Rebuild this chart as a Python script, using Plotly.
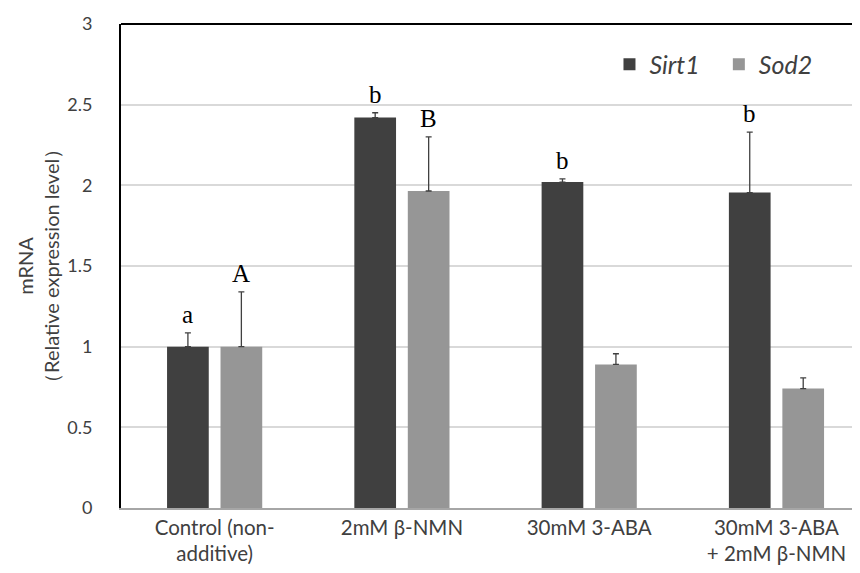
import plotly.graph_objects as go

categories = ["Control (non-<br>additive)", "2mM β-NMN", "30mM 3-ABA", "30mM 3-ABA<br>+ 2mM β-NMN"]
sirt1 = [1.0, 2.42, 2.02, 1.955]
sirt1_err = [0.085, 0.03, 0.02, 0.375]
sod2 = [1.0, 1.965, 0.89, 0.74]
sod2_err = [0.34, 0.335, 0.066, 0.066]
sirt1_letters = ["a", "b", "b", "b"]
sod2_letters = ["A", "B", "", ""]

DARK = "#404040"
LIGHT = "#969696"
FONT = "Lato"

fig = go.Figure()
fig.add_trace(go.Bar(
    x=categories, y=sirt1, name="Sirt1", legend="legend",
    marker=dict(color=DARK, line=dict(width=0)),
    error_y=dict(type="data", array=sirt1_err, symmetric=False, arrayminus=[0]*4,
                 color="#404040", thickness=1.3, width=3),
))
fig.add_trace(go.Bar(
    x=categories, y=sod2, name="Sod2", legend="legend2",
    marker=dict(color=LIGHT, line=dict(width=0)),
    error_y=dict(type="data", array=sod2_err, symmetric=False, arrayminus=[0]*4,
                 color="#404040", thickness=1.3, width=3),
))

annotations = []
for i, c in enumerate(categories):
    for letters, vals, errs, off in ((sirt1_letters, sirt1, sirt1_err, -0.143), (sod2_letters, sod2, sod2_err, 0.143)):
        if letters[i]:
            annotations.append(dict(
                x=i + off, y=vals[i] + errs[i], xref="x", yref="y",
                text=letters[i], showarrow=False, yanchor="bottom", yshift=3,
                font=dict(family="Liberation Serif", size=25, color="#000000"),
            ))

annotations.append(dict(
    x=0, y=0.5, xref="paper", yref="paper", xshift=-83,
    text="mRNA<br>（Relative expression level）", showarrow=False, textangle=-90,
    font=dict(family="Lato", size=20, color="#404040"), xanchor="center", yanchor="middle",
))

legend_style = dict(orientation="h", xanchor="left", yanchor="top",
                    font=dict(family=FONT, size=25, color="#404040", style="italic"),
                    bgcolor="rgba(0,0,0,0)")

# page body has an 8px default margin; figure sized to fill the remaining window
fig.update_layout(
    width=852, height=565,
    margin=dict(l=113, r=0, t=16, b=65),
    paper_bgcolor="white", plot_bgcolor="white",
    barmode="group", bargap=0.429, bargroupgap=0.22,
    showlegend=True,
    legend=dict(x=0.661, y=0.964, **legend_style),
    legend2=dict(x=0.809, y=0.964, **legend_style),
    annotations=annotations,
    shapes=[dict(type="line", xref="paper", yref="paper", x0=0, x1=1, y0=1, y1=1,
                 line=dict(color="#000000", width=2))],
)
fig.update_xaxes(
    type="category", range=[-0.5, 3.446], showgrid=False, showline=True,
    linecolor="#a6a6a6", linewidth=2, ticks="", ticklen=0,
    tickfont=dict(family=FONT, size=20.5, color="#404040"),
)
fig.update_yaxes(
    range=[0, 3], dtick=0.5, showgrid=True, gridcolor="#d9d9d9", gridwidth=1.5,
    showline=True, linecolor="#000000", linewidth=2, ticks="", zeroline=False,
    tickfont=dict(family=FONT, size=18, color="#404040"), ticklabelstandoff=23,
)

fig.write_html("out.html")
